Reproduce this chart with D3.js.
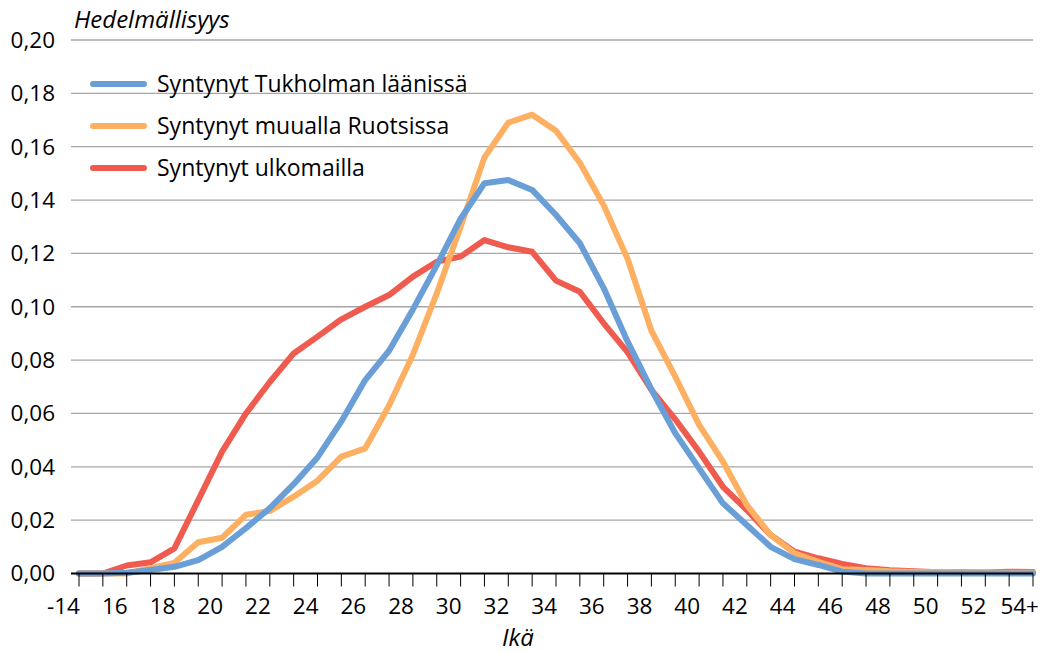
<!DOCTYPE html>
<html>
<head>
<meta charset="utf-8">
<script src="https://cdn.jsdelivr.net/npm/d3@7"></script>
<style>
  body { margin: 0; background: #fff; }
  svg { font-family: "Open Sans", sans-serif; }
</style>
</head>
<body>
<svg width="1054" height="653"></svg>
<script>
// ages -14 ... 54+
var ages = ["-14", "15", "16", "17", "18", "19", "20", "21", "22", "23", "24", "25", "26", "27", "28", "29",
    "30", "31", "32", "33", "34", "35", "36", "37", "38", "39", "40", "41", "42", "43", "44", "45",
    "46", "47", "48", "49", "50", "51", "52", "53", "54+"]

var tukholma = [0, 0, 0.0003, 0.0013, 0.0025, 0.005, 0.010, 0.017, 0.0245, 0.0335, 0.0435, 0.057, 0.0725,
    0.0835, 0.099, 0.1155, 0.133, 0.1463, 0.1475, 0.1438, 0.1344, 0.1238, 0.107, 0.087, 0.069, 0.0526,
    0.0394, 0.0263, 0.0182, 0.010, 0.0054, 0.0032, 0.0007, 0, 0, 0, 0, 0, 0, 0, 0]

var muuRuotsi = [0, 0, 0, 0.002, 0.004, 0.0117, 0.0134, 0.022, 0.0234, 0.0288, 0.0348, 0.0438, 0.0469,
    0.063, 0.082, 0.105, 0.130, 0.156, 0.169, 0.172, 0.166, 0.154, 0.138, 0.118, 0.091, 0.0738,
    0.0557, 0.0419, 0.0257, 0.0144, 0.0076, 0.0044, 0.0016, 0.0013, 0.0008, 0.0006, 0.0005, 0.0004, 0.0003, 0.0003, 0.0003]

var ulkomailla = [0, 0, 0.003, 0.0042, 0.0094, 0.0275, 0.0457, 0.060, 0.0718, 0.0825, 0.0888, 0.0953, 0.100,
    0.1044, 0.1113, 0.1169, 0.1188, 0.125, 0.1223, 0.1206, 0.1098, 0.1056, 0.0938, 0.083, 0.0688, 0.0578,
    0.0457, 0.0325, 0.0238, 0.0144, 0.0082, 0.0057, 0.0036, 0.002, 0.0012, 0.0008, 0.0005, 0.0005, 0.0004, 0.0007, 0.0006]

var yTicks = [0, 0.02, 0.04, 0.06, 0.08, 0.10, 0.12, 0.14, 0.16, 0.18, 0.20]

var sarjat = [
    {name: "Syntynyt ulkomailla", values: ulkomailla, color: "#ef5b4f"},
    {name: "Syntynyt muualla Ruotsissa", values: muuRuotsi, color: "#fdb062"},
    {name: "Syntynyt Tukholman läänissä", values: tukholma, color: "#6a9ed6"}
]
var legendOrder = [2, 1, 0]

function main(){
    var svg = d3.select("svg")
    var left = 71, right = 1033, top = 40, bottom = 573.5

    var x = d3.scalePoint().domain(ages).range([79, right])
    var y = d3.scaleLinear().domain([0, 0.2]).range([bottom, top])
    var fmt = function(d){ return d3.format(".2f")(d).replace(".", ",") }

    // gridlines
    svg.append("g").selectAll("line")
        .data(yTicks.slice(1))
        .enter().append("line")
        .attr("x1", left).attr("x2", right)
        .attr("y1", function(d){ return y(d) }).attr("y2", function(d){ return y(d) })
        .attr("stroke", "#a6a6a6").attr("stroke-width", 1.3)

    // y labels
    svg.append("g").selectAll("text")
        .data(yTicks)
        .enter().append("text")
        .attr("x", 55).attr("y", function(d){ return y(d) })
        .attr("dy", "0.35em")
        .attr("text-anchor", "end")
        .attr("font-size", 22.5)
        .attr("fill", "#000")
        .text(fmt)

    // lines
    var line = d3.line()
        .x(function(d, i){ return x(ages[i]) })
        .y(function(d){ return y(d) })

    svg.append("g").selectAll("path")
        .data(sarjat)
        .enter().append("path")
        .attr("d", function(s){ return line(s.values) })
        .attr("fill", "none")
        .attr("stroke", function(s){ return s.color })
        .attr("stroke-width", 6)
        .attr("stroke-linejoin", "round")
        .attr("stroke-linecap", "round")

    // x axis
    var xAxis = svg.append("g").attr("transform", "translate(0," + bottom + ")")
    xAxis.append("line")
        .attr("x1", left).attr("x2", right)
        .attr("stroke", "#000").attr("stroke-width", 2)
    xAxis.selectAll(".tick")
        .data(ages)
        .enter().append("line")
        .attr("class", "tick")
        .attr("x1", function(d){ return x(d) }).attr("x2", function(d){ return x(d) })
        .attr("y1", 0).attr("y2", 13)
        .attr("stroke", "#000").attr("stroke-width", 1)
    xAxis.selectAll(".lbl")
        .data(ages.filter(function(d, i){ return i % 2 == 0 }))
        .enter().append("text")
        .attr("class", "lbl")
        .attr("x", function(d){ return x(d) + (d == "54+" ? 6 : 1) })
        .attr("y", 40)
        .attr("text-anchor", "end")
        .attr("font-size", 22.5)
        .text(function(d){ return d })

    // titles
    svg.append("text")
        .attr("x", 74).attr("y", 28)
        .attr("font-size", 24).attr("font-style", "italic")
        .text("Hedelmällisyys")
    svg.append("text")
        .attr("x", 518).attr("y", 646)
        .attr("text-anchor", "middle")
        .attr("font-size", 24).attr("font-style", "italic")
        .text("Ikä")

    // legend
    var leg = svg.append("g").selectAll("g")
        .data(legendOrder.map(function(i){ return sarjat[i] }))
        .enter().append("g")
        .attr("transform", function(d, i){ return "translate(0," + (84 + i * 42) + ")" })
    leg.append("line")
        .attr("x1", 93).attr("x2", 144)
        .attr("stroke", function(d){ return d.color })
        .attr("stroke-width", 6).attr("stroke-linecap", "round")
    leg.append("text")
        .attr("x", 157).attr("dy", "0.35em")
        .attr("font-size", 23)
        .text(function(d){ return d.name })
}
main()
</script>
</body>
</html>
